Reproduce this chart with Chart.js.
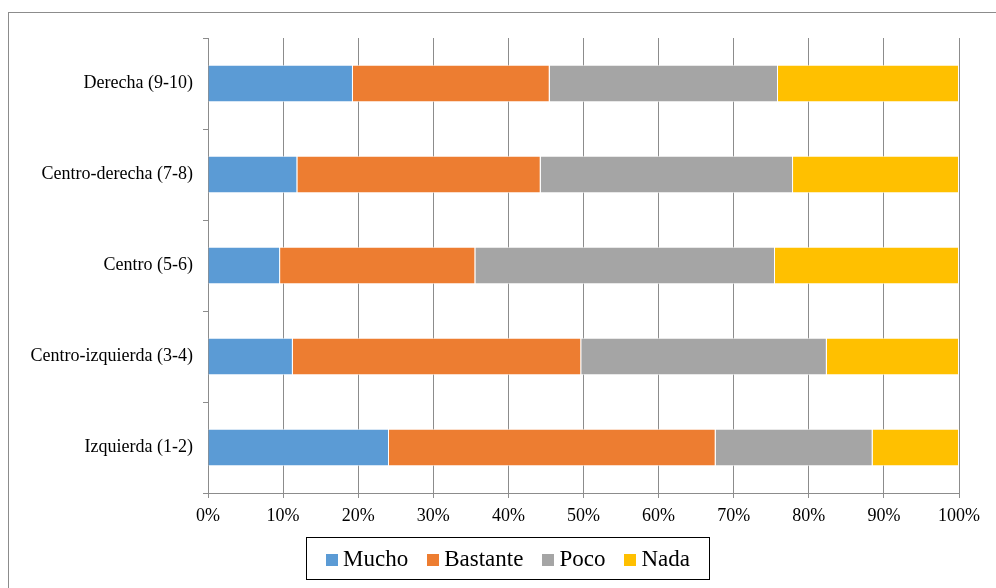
<!DOCTYPE html>
<html>
<head>
<meta charset="utf-8">
<script src="https://cdn.jsdelivr.net/npm/chart.js@4"></script>
<style>
  body { margin: 0; background: #fff; }
  #wrap { position: relative; width: 996px; height: 588px; overflow: hidden; }
  #frame { position: absolute; left: 8px; top: 12px; width: 1000px; height: 600px;
           border-top: 1px solid #8c8c8c; border-left: 1px solid #8c8c8c; }
  #legend { position: absolute; left: 306px; top: 537px; width: 404px; height: 43px;
            border: 1px solid #000; box-sizing: border-box; display: flex;
            align-items: center; justify-content: center; gap: 19px;
            font-family: "Liberation Serif", "Times New Roman", serif; font-size: 23px; color: #000; }
  #legend span.box { display: inline-block; width: 12px; height: 12px; margin-right: 5px; vertical-align: 0px; }
</style>
</head>
<body>
<div id="wrap">
  <div id="frame"></div>
  <canvas id="chart" width="996" height="588"></canvas>
  <div id="legend"></div>
</div>
<script>
// categorias de ideologia (de arriba hacia abajo en el grafico)
const categories = ["Derecha (9-10)", "Centro-derecha (7-8)", "Centro (5-6)", "Centro-izquierda (3-4)", "Izquierda (1-2)"];
const seriesNames = ["Mucho", "Bastante", "Poco", "Nada"];
const colors = ["#5b9bd5", "#ed7d31", "#a5a5a5", "#ffc000"];

// porcentajes
const mucho    = [19.3, 11.9,  9.6, 11.3, 24.1];
const bastante = [26.2, 32.4, 26.0, 38.4, 43.5];
const poco     = [30.4, 33.6, 39.9, 32.7, 20.9];
const nada     = [24.1, 22.1, 24.5, 17.6, 11.5];

const xTicks = [0, 10, 20, 30, 40, 50, 60, 70, 80, 90, 100];

const values = [mucho, bastante, poco, nada];
const font = { family: "'Liberation Serif', 'Times New Roman', serif", size: 18 };

const ctx = document.getElementById("chart").getContext("2d");
new Chart(ctx, {
    type: "bar",
    data: {
        labels: categories,
        datasets: seriesNames.map((name, i) => ({
            label: name,
            data: values[i],
            backgroundColor: colors[i],
            borderColor: "rgba(255,255,255,0.8)",
            borderWidth: { top: 1, bottom: 1, right: 1, left: 0 },
            borderSkipped: false,
            categoryPercentage: 1,
            barPercentage: 0.41,
        })),
    },
    options: {
        indexAxis: "y",
        responsive: false,
        animation: false,
        layout: { padding: { left: 0, top: 38, right: 37, bottom: 55 } },
        plugins: { legend: { display: false }, tooltip: { enabled: false } },
        scales: {
            x: {
                stacked: true,
                min: 0,
                max: 100,
                afterBuildTicks: scale => { scale.ticks = xTicks.map(v => ({ value: v })); },
                afterFit: scale => { scale.height = 40; },
                ticks: { font: font, color: "#000", padding: 7, callback: v => v + "%" },
                grid: { color: "#8c8c8c", lineWidth: 1, tickLength: 5, drawTicks: true },
                border: { color: "#8c8c8c" },
            },
            y: {
                stacked: true,
                afterFit: scale => { scale.width = 208; },
                ticks: { font: font, color: "#000", padding: 10 },
                grid: { drawOnChartArea: false, drawTicks: true, tickLength: 5, color: "#8c8c8c", offset: true },
                border: { color: "#8c8c8c" },
            },
        },
    },
});

// leyenda en caja, como en el original
const legend = document.getElementById("legend");
seriesNames.forEach((name, i) => {
    const item = document.createElement("div");
    item.innerHTML = `<span class="box" style="background:${colors[i]}"></span>${name}`;
    legend.appendChild(item);
});
</script>
</body>
</html>
